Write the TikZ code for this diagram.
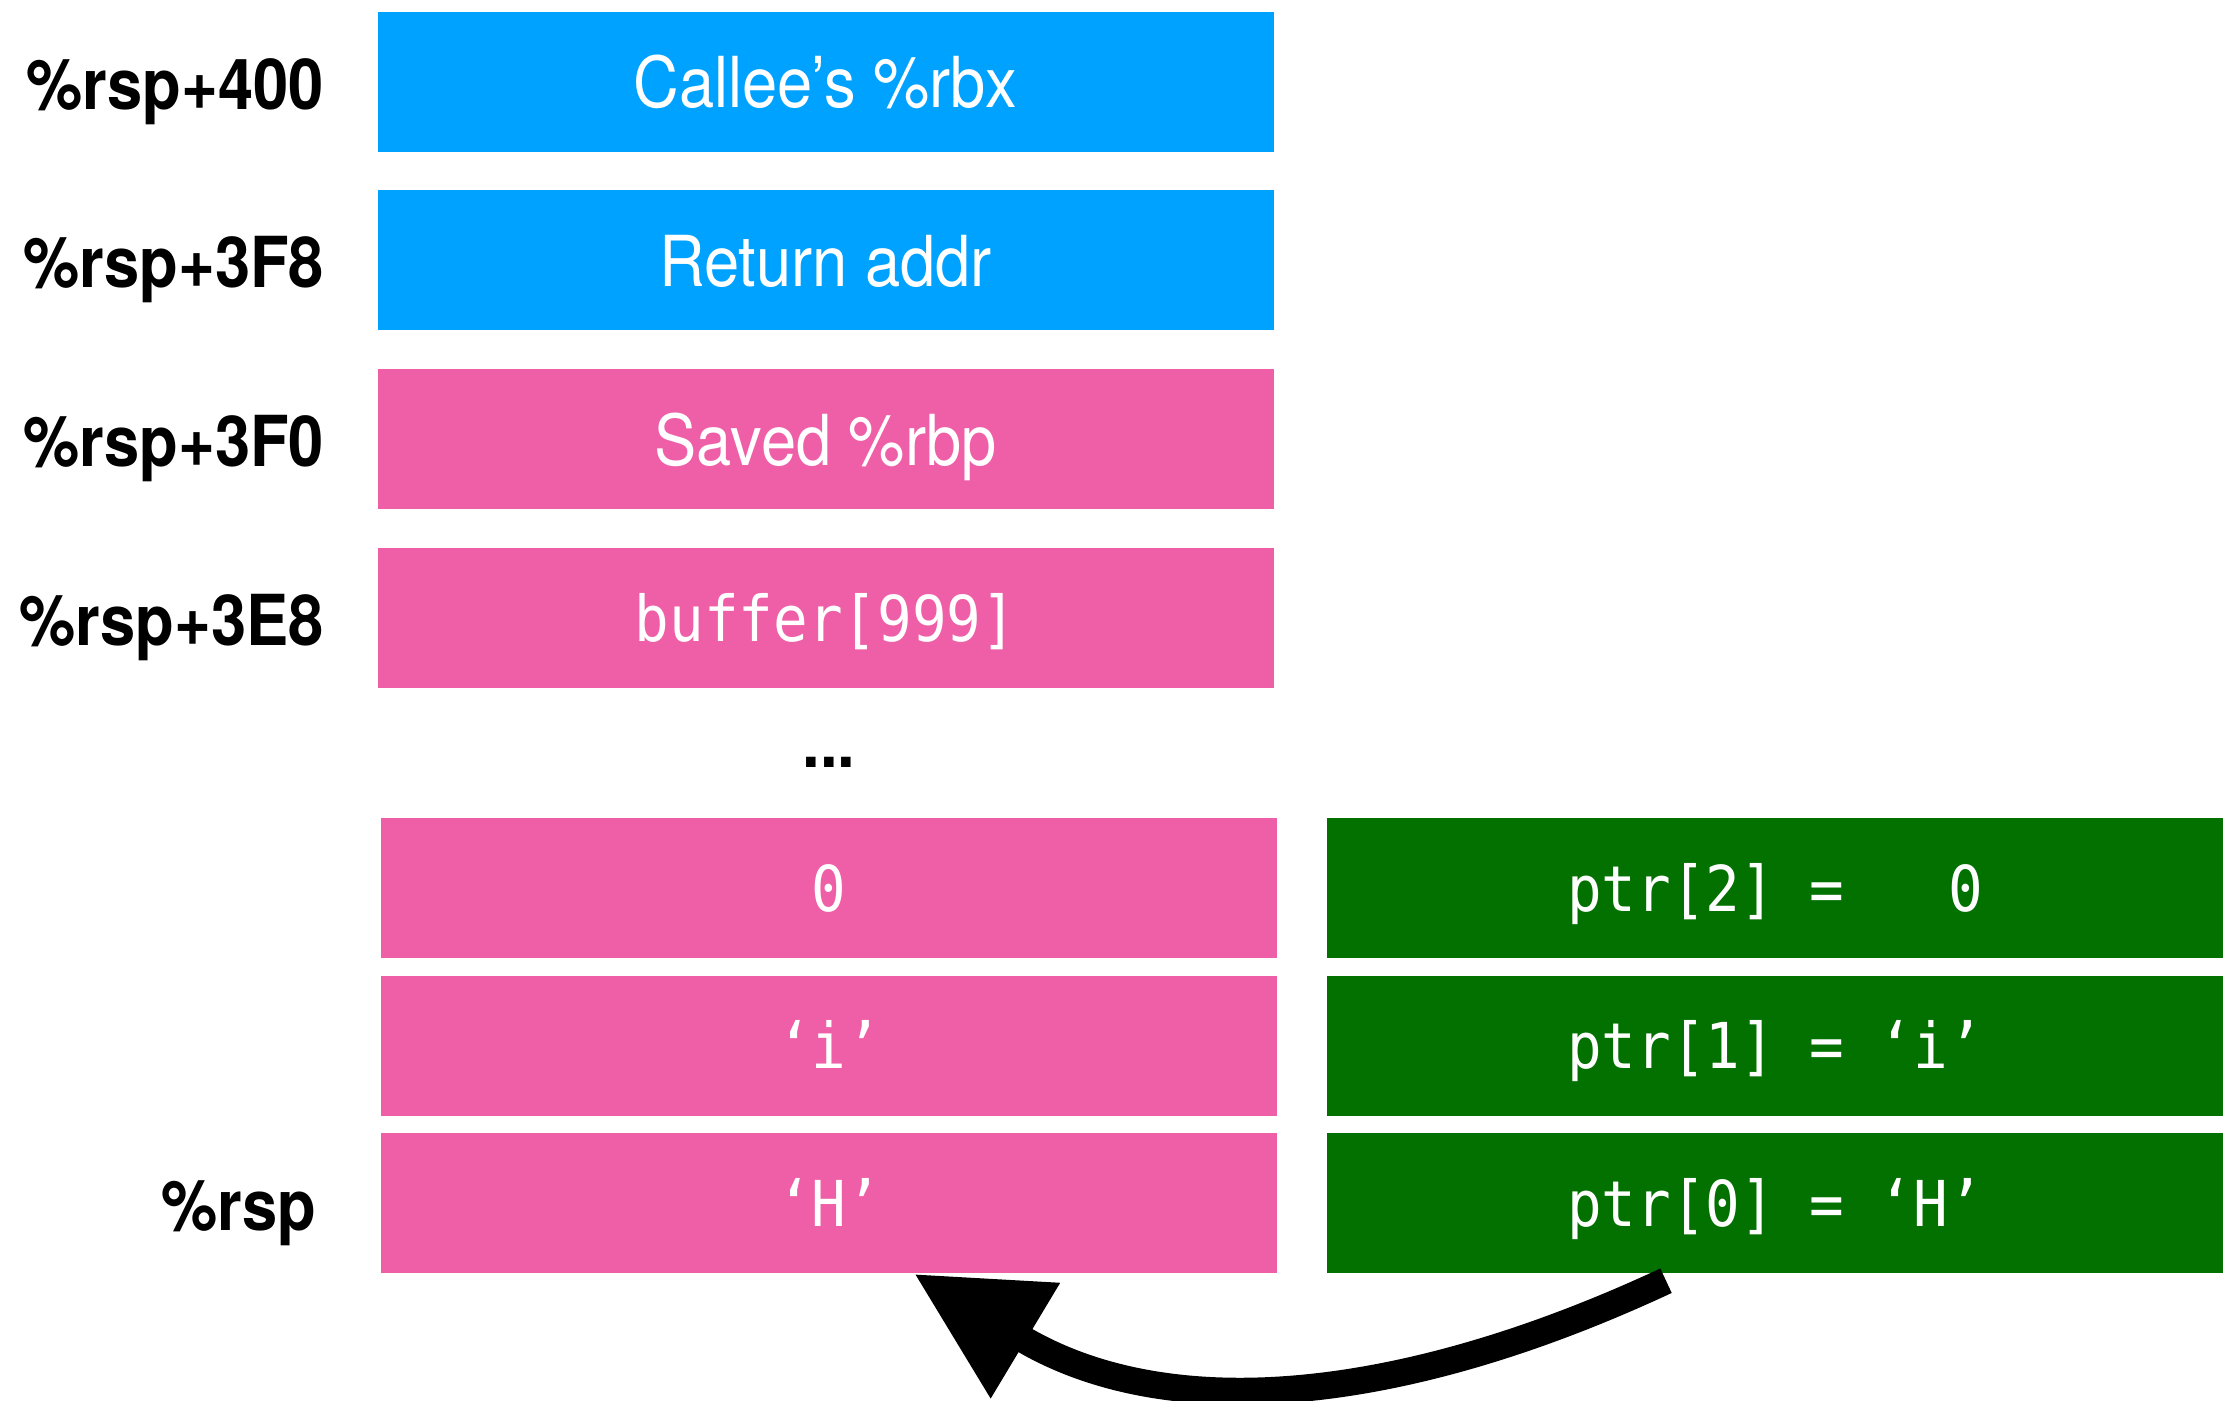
\documentclass[tikz,border=0pt]{standalone}
\usepackage{fontspec}
\setmainfont{TeX Gyre Heros}
\newfontfamily\slotfont[FakeStretch=0.9]{TeX Gyre Heros}
\newfontfamily\codefont[FakeStretch=0.91]{DejaVu Sans Mono}
\usetikzlibrary{positioning,arrows.meta}
\definecolor{regblue}{RGB}{0,162,255}
\definecolor{stackpink}{RGB}{239,95,167}
\definecolor{ptrgreen}{RGB}{2,113,0}

\begin{document}
\begin{tikzpicture}[
	slot/.style={rectangle, minimum width=8.96cm, minimum height=1.40cm, inner sep=0pt, text height=0.52cm, text depth=0pt, text=white, font=\slotfont\fontsize{20}{24}\selectfont},
	code/.style={slot, text height=0.46cm, font=\codefont\fontsize{18}{22}\selectfont},
	addr/.style={inner sep=0pt, text height=0.55cm, text depth=0pt, font=\slotfont\bfseries\fontsize{20}{24}\selectfont}
	]
	\useasboundingbox (0,0) rectangle (22.23,-14);
	%\draw [help lines] (0,0) grid (22,-14);
	\node [slot, fill=regblue] (rbx) at (8.255,-0.815) {Callee’s \%rbx};
	\node [slot, fill=regblue] (ret) at (8.255,-2.60) {Return addr};
	\node [slot, fill=stackpink] (rbp) at (8.255,-4.39) {Saved \%rbp};
	\node [code, fill=stackpink] (buf) at (8.255,-6.18) {buffer[999]};
	\node [addr, left=0.52cm of rbx] (a400) {\%rsp+400};
	\node [addr, left=0.52cm of ret] (a3f8) {\%rsp+3F8};
	\node [addr, left=0.52cm of rbp] (a3f0) {\%rsp+3F0};
	\node [addr, left=0.52cm of buf] (a3e8) {\%rsp+3E8};
	\node [addr, text height=, text depth=] (dots) at (8.29,-7.62) {...};
	% the three bytes at the bottom of the stack
	\node [code, fill=stackpink] (b2) at (8.29,-8.88) {0};
	\node [code, fill=stackpink] (b1) at (8.29,-10.455) {‘i’};
	\node [code, fill=stackpink] (b0) at (8.29,-12.03) {‘H’};
	\node [addr, left=0.63cm of b0] (rsp) {\%rsp};
	\node [code, fill=ptrgreen] (p2) at (17.75,-8.88) {ptr[2] =\ \ \ 0};
	\node [code, fill=ptrgreen] (p1) at (17.75,-10.455) {ptr[1] = ‘i’};
	\node [code, fill=ptrgreen] (p0) at (17.75,-12.03) {ptr[0] = ‘H’};
	\draw [line width=0.27cm, -{Triangle[length=1.3cm, width=1.27cm]}] ([xshift=-1.09cm, yshift=-0.07cm]p0.south) to [out=-155, in=-31] ([xshift=0.85cm]b0.south);
\end{tikzpicture}
\end{document}
